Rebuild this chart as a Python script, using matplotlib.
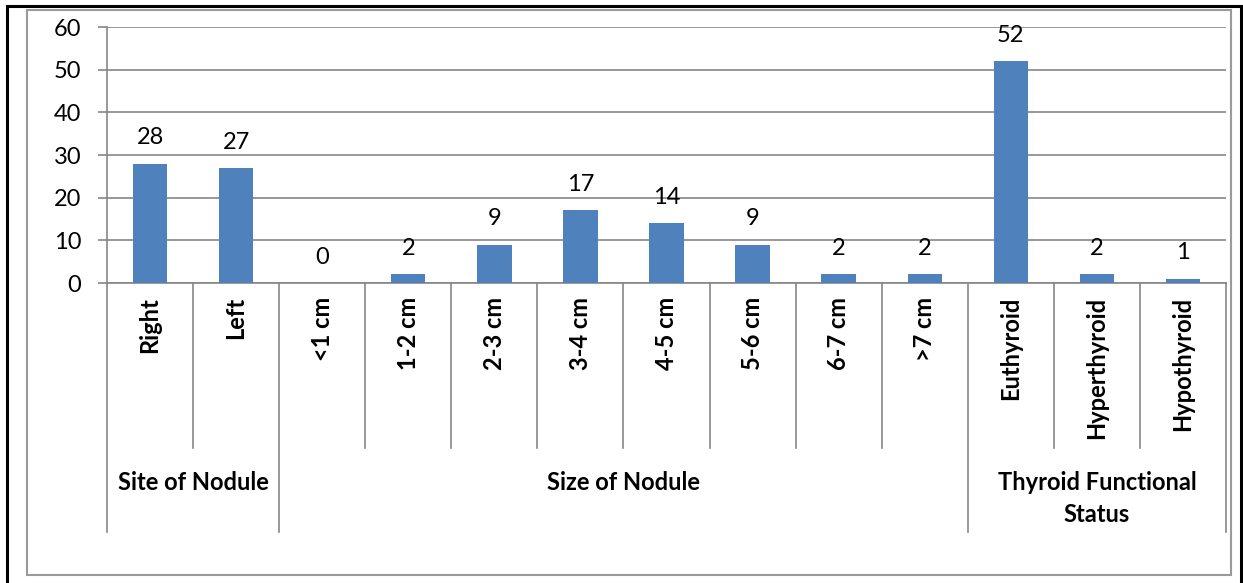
import matplotlib
matplotlib.use("Agg")
import matplotlib.pyplot as plt
from matplotlib.patches import Rectangle

# data
categories = ["Right", "Left", "<1 cm", "1-2 cm", "2-3 cm", "3-4 cm", "4-5 cm",
              "5-6 cm", "6-7 cm", ">7 cm", "Euthyroid", "Hyperthyroid", "Hypothyroid"]
values = [28, 27, 0, 2, 9, 17, 14, 9, 2, 2, 52, 2, 1]
groups = ["Site of Nodule", "Size of Nodule", "Thyroid Functional\nStatus"]
group_sizes = [2, 8, 3]
yticks = [0, 10, 20, 30, 40, 50, 60]

plt.rcParams['font.family'] = ['Lato', 'DejaVu Sans']
W, H = 1243, 583
fig = plt.figure(figsize=(W / 100, H / 100), dpi=100)

def fx(px):
    return px / W

def fy(py):
    return 1 - py / H

# outer borders
fig.patches.append(Rectangle((fx(7), fy(590)), fx(1241) - fx(7), fy(6) - fy(590),
                             transform=fig.transFigure, fill=False, ec='black', lw=2.2))
fig.patches.append(Rectangle((fx(27), fy(575)), fx(1231) - fx(27), fy(10) - fy(575),
                             transform=fig.transFigure, fill=False, ec='#9a9a9a', lw=1.5))

left, right, top, bottom = 107, 1226, 27, 283
ax = fig.add_axes([fx(left), fy(bottom), fx(right) - fx(left), fy(top) - fy(bottom)])

grey = '#868686'
fs = 17
n = len(categories)
x = list(range(n))
ax.bar(x, values, width=0.4, color='#4F81BD', zorder=3)
ax.set_xlim(-0.5, n - 0.5)
ax.set_ylim(0, 60)
ax.set_yticks(yticks)
ax.tick_params(axis='y', length=6.5, width=1.2, color=grey, labelsize=fs, pad=12)
ax.tick_params(axis='x', bottom=False, labelbottom=False)
ax.grid(axis='y', color=grey, lw=1.2, zorder=0)
for s in ['top', 'right']:
    ax.spines[s].set_visible(False)
for s in ['left', 'bottom']:
    ax.spines[s].set_color(grey)
    ax.spines[s].set_linewidth(1.2)

for xi, v in zip(x, values):
    ax.annotate(str(v), (xi, v), xytext=(0, 11), textcoords='offset points',
                ha='center', va='bottom', fontsize=fs)

tr = ax.get_xaxis_transform()
ph = bottom - top
def ay(py):
    return (bottom - py) / ph

# category labels and separators
for xi, lab in zip(x, categories):
    ax.text(xi, ay(297), lab, rotation=90, ha='center', va='top', fontsize=fs,
            fontweight='bold', transform=tr)

bounds = [0]
for g in group_sizes:
    bounds.append(bounds[-1] + g)
for b in range(n + 1):
    y_end = ay(532) if b in bounds else ay(448)
    ax.plot([b - 0.5, b - 0.5], [0, y_end], color=grey, lw=1.2, transform=tr, clip_on=False)

for i, g in enumerate(groups):
    mid = (bounds[i] + bounds[i + 1]) / 2 - 0.5
    ax.text(mid, ay(471), g, ha='center', va='top', fontsize=fs, fontweight='bold',
            transform=tr, linespacing=1.5)

fig.savefig("out.png", dpi=100)
